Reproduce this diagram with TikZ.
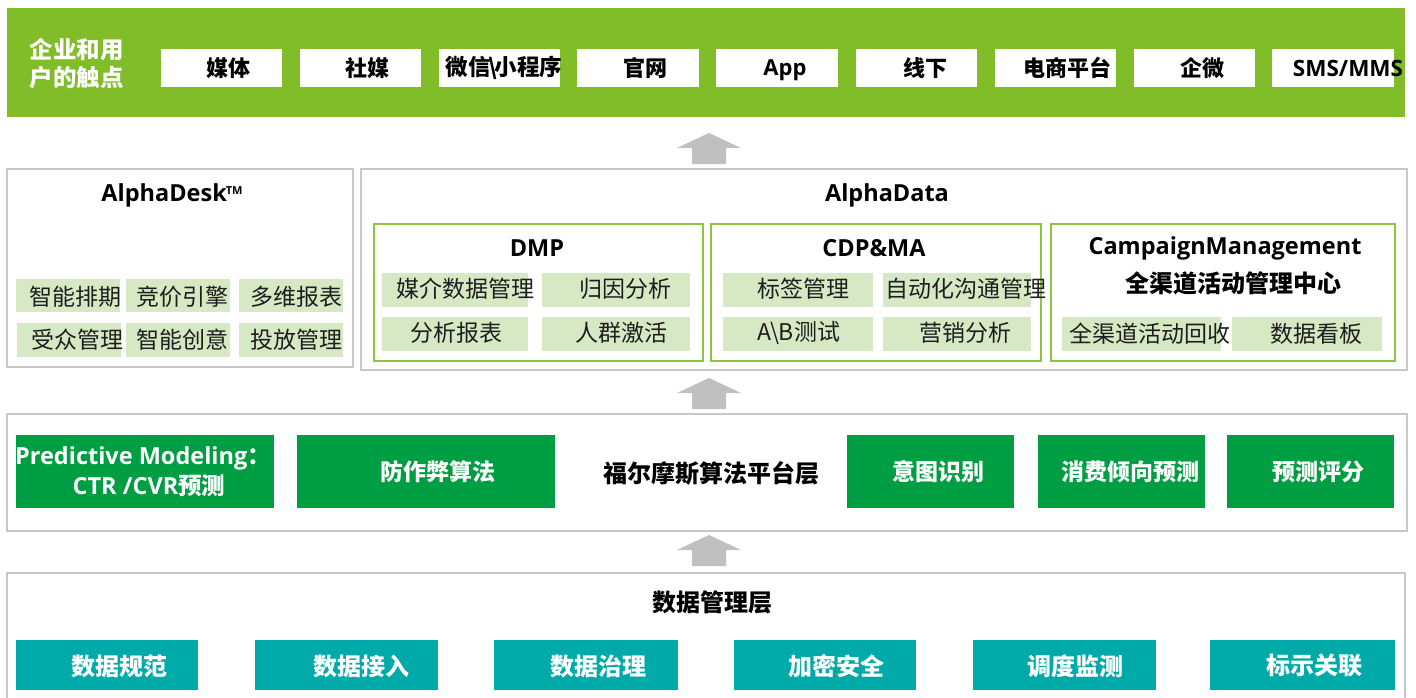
\documentclass[tikz,border=0pt]{standalone}
\usepackage{fontspec}
\setmainfont{Noto Sans CJK SC}
\newfontfamily\osans{Open Sans}
\definecolor{topgreen}{RGB}{128,189,41}
\definecolor{lightg}{RGB}{214,233,196}
\definecolor{framegreen}{RGB}{140,198,63}
\definecolor{alggreen}{RGB}{0,158,66}
\definecolor{tealc}{RGB}{0,170,169}
\definecolor{boxgray}{RGB}{200,200,200}
\definecolor{arrowgray}{RGB}{192,192,192}
\definecolor{txtdark}{RGB}{30,30,30}
\newcommand\mybox[6]{\node[#6, inner sep=0pt, outer sep=0pt, anchor=north west,
  minimum width={(#4-#2)*1pt}, minimum height={(#5-#3)*1pt}] (#1) at (#2,#3) {};}
\newcommand\uparr[3]{% name, center x, bottom y
  \coordinate (#1) at (#2,#3);
  \fill[arrowgray] ($(#1)+(-17,0)$) -- ++(0,-16) -- ++(-15,0) -- ($(#1)+(0,-31)$)
    -- ($(#1)+(32,-16)$) -- ++(-15,0) -- ($(#1)+(17,0)$) -- cycle;}
\usetikzlibrary{calc}
\tikzset{
  graybox/.style={draw=boxgray, line width=2pt, fill=white},
  gframe/.style={draw=framegreen, line width=2pt},
  whitebox/.style={fill=white},
  lbox/.style={fill=lightg},
  abox/.style={fill=alggreen},
  tbox/.style={fill=tealc},
  toptxt/.style={inner sep=0pt, font=\fontsize{22}{26}\selectfont\bfseries, text=black},
  ltxt/.style={inner sep=0pt, font=\fontsize{23}{27}\selectfont, text=txtdark},
  ttl/.style={inner sep=0pt, font=\fontsize{23.5}{28}\selectfont\bfseries\osans, text=black},
  cjkttl/.style={inner sep=0pt, font=\fontsize{23}{28}\selectfont\bfseries, text=black},
  wtxt/.style={inner sep=0pt, font=\fontsize{23}{28}\selectfont\bfseries, text=white},
}
\begin{document}
\begin{tikzpicture}[x=1pt,y=-1pt]
\clip (0,0) rectangle (1416,698);
\fill[white] (0,0) rectangle (1416,698);
% ---------- top bar ----------
\mybox{top}{7}{8}{1405}{117}{fill=topgreen}
\node[wtxt, align=center, font=\fontsize{23.5}{28}\selectfont\bfseries] (toplabel) at (76.5,64) {企业和用\\户的触点};
\mybox{w1}{161}{49}{282}{87}{whitebox}
\mybox{w2}{300}{49}{421}{87}{whitebox}
\mybox{w3}{439}{49}{560}{87}{whitebox}
\mybox{w4}{577}{49}{699}{87}{whitebox}
\mybox{w5}{716}{49}{838}{87}{whitebox}
\mybox{w6}{856}{49}{977}{87}{whitebox}
\mybox{w7}{995}{49}{1116}{87}{whitebox}
\mybox{w8}{1134}{49}{1255}{87}{whitebox}
\mybox{w9}{1272}{49}{1394}{87}{whitebox}
\node[toptxt] (tw1) at (228,68) {媒体};
\node[toptxt] (tw2) at (367,68) {社媒};
\node[toptxt, font=\fontsize{22.5}{26}\selectfont\bfseries] (tw3) at (504,68) {微信\kern-2pt\textbackslash\kern-3pt 小程序};
\node[toptxt] (tw4) at (645,68) {官网};
\node[toptxt, font=\fontsize{22}{26}\selectfont\bfseries\osans] (tw5) at (785,70) {App};
\node[toptxt] (tw6) at (925,68) {线下};
\node[toptxt] (tw7) at (1067,68) {电商平台};
\node[toptxt] (tw8) at (1202,68) {企微};
\node[toptxt, font=\fontsize{22.5}{26}\selectfont\bfseries\osans] (tw9) at (1348,68) {SMS/MMS};
% ---------- arrows ----------
\uparr{a1}{709}{164}
\uparr{a2}{709}{409}
\uparr{a3}{709}{566}
% ---------- AlphaDesk ----------
\mybox{desk}{7}{169}{353}{367}{graybox}
\node[ttl] (tdesk) at (172,195) {AlphaDesk\kern-1pt\raisebox{7pt}{\fontsize{11}{11}\selectfont TM}};
\mybox{d1}{16}{279}{120}{312}{lbox}
\mybox{d2}{126}{279}{230}{312}{lbox}
\mybox{d3}{239}{279}{343}{312}{lbox}
\mybox{d4}{17}{323}{121}{357}{lbox}
\mybox{d5}{126}{323}{230}{357}{lbox}
\mybox{d6}{239}{323}{343}{357}{lbox}
\node[ltxt] (td1) at (75,297) {智能排期};
\node[ltxt] (td2) at (182,297) {竞价引擎};
\node[ltxt] (td3) at (296,297) {多维报表};
\node[ltxt] (td4) at (77,340) {受众管理};
\node[ltxt] (td5) at (182,340) {智能创意};
\node[ltxt] (td6) at (296,340) {投放管理};
% ---------- AlphaData ----------
\mybox{data}{361}{169}{1407}{370}{graybox}
\node[ttl] (tdata) at (887,195) {AlphaData};
\mybox{dmp}{374}{224}{703}{361}{gframe}
\mybox{cdp}{711}{224}{1041}{361}{gframe}
\mybox{cam}{1051}{224}{1395}{361}{gframe}
\node[ttl] (tdmp) at (537,248) {DMP};
\node[ttl] (tcdp) at (874,248) {CDP\&MA};
\node[ttl] (tcam) at (1225,248) {CampaignManagement};
\node[cjkttl, font=\fontsize{24}{28}\selectfont\bfseries] (tcam2) at (1233,283) {全渠道活动管理中心};
\mybox{m1}{382}{273}{528}{307}{lbox}
\mybox{m2}{542}{273}{690}{307}{lbox}
\mybox{m3}{382}{317}{528}{351}{lbox}
\mybox{m4}{542}{317}{690}{351}{lbox}
\node[ltxt] (tm1) at (465,289) {媒介数据管理};
\node[ltxt] (tm2) at (625,289) {归因分析};
\node[ltxt] (tm3) at (456,333) {分析报表};
\node[ltxt] (tm4) at (621,333) {人群激活};
\mybox{c1}{723}{273}{873}{307}{lbox}
\mybox{c2}{883}{273}{1031}{307}{lbox}
\mybox{c3}{723}{317}{873}{351}{lbox}
\mybox{c4}{883}{317}{1031}{351}{lbox}
\node[ltxt] (tc1) at (803,289) {标签管理};
\node[ltxt] (tc2) at (966,289) {自动化沟通管理};
\node[ltxt] (tc3) at (799,333) {A\kern-1pt\textbackslash\kern-1pt B测试};
\node[ltxt] (tc4) at (965,333) {营销分析};
\mybox{p1}{1062}{317}{1221}{351}{lbox}
\mybox{p2}{1232}{317}{1382}{351}{lbox}
\node[ltxt] (tp1) at (1150,334) {全渠道活动回收};
\node[ltxt] (tp2) at (1316,334) {数据看板};
% ---------- algorithm layer ----------
\mybox{alg}{7}{414}{1407}{531}{graybox}
\mybox{g1}{16}{435}{274}{508}{abox}
\mybox{g2}{297}{435}{555}{508}{abox}
\mybox{g3}{847}{435}{1014}{508}{abox}
\mybox{g4}{1038}{435}{1205}{508}{abox}
\mybox{g5}{1227}{435}{1394}{508}{abox}
\node[wtxt, align=center, font=\fontsize{23.5}{30}\selectfont\bfseries] (tg1) at (143,472)
  {{\osans Predictive Modeling}：\\\hspace*{12pt}{\osans CTR /CVR}预测};
\node[wtxt] (tg2) at (438,472) {防作弊算法};
\node[cjkttl, font=\fontsize{24}{28}\selectfont\bfseries] (talg) at (711,473) {福尔摩斯算法平台层};
\node[wtxt] (tg3) at (938,472) {意图识别};
\node[wtxt] (tg4) at (1130,472) {消费倾向预测};
\node[wtxt] (tg5) at (1318,472) {预测评分};
% ---------- data layer ----------
\mybox{dl}{7}{573}{1405}{720}{graybox}
\node[cjkttl, font=\fontsize{24}{28}\selectfont\bfseries] (tdl) at (712,602) {数据管理层};
\mybox{s1}{16}{640}{198}{690}{tbox}
\mybox{s2}{255}{640}{438}{690}{tbox}
\mybox{s3}{494}{640}{678}{690}{tbox}
\mybox{s4}{734}{640}{916}{690}{tbox}
\mybox{s5}{973}{640}{1156}{690}{tbox}
\mybox{s6}{1210}{640}{1395}{690}{tbox}
\node[wtxt, font=\fontsize{24}{28}\selectfont\bfseries] (ts1) at (119,666) {数据规范};
\node[wtxt, font=\fontsize{24}{28}\selectfont\bfseries] (ts2) at (361,666) {数据接入};
\node[wtxt, font=\fontsize{24}{28}\selectfont\bfseries] (ts3) at (598,666) {数据治理};
\node[wtxt, font=\fontsize{24}{28}\selectfont\bfseries] (ts4) at (836,666) {加密安全};
\node[wtxt, font=\fontsize{24}{28}\selectfont\bfseries] (ts5) at (1075,666) {调度监测};
\node[wtxt, font=\fontsize{24}{28}\selectfont\bfseries] (ts6) at (1314,666) {标示关联};
\end{tikzpicture}
\end{document}
